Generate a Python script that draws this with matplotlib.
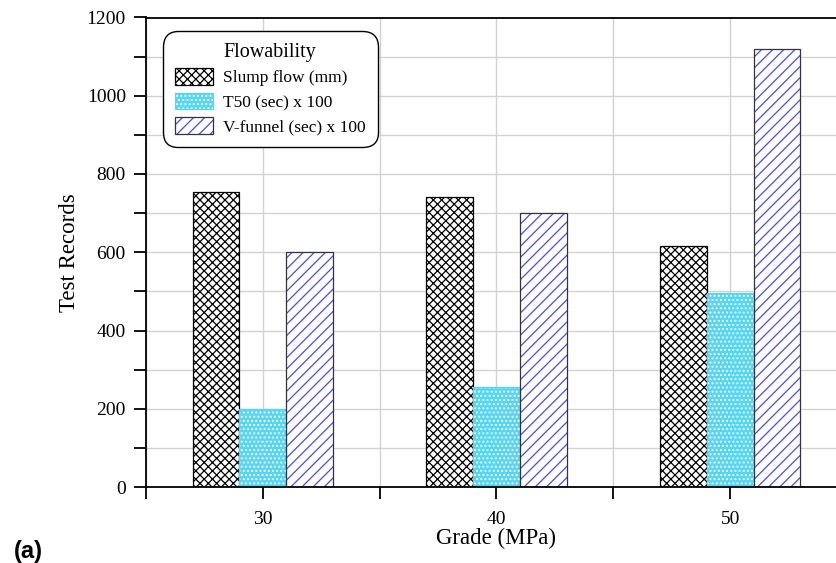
import matplotlib

matplotlib.use("Agg")
import matplotlib.pyplot as plt
import matplotlib.patches as mpatches
from matplotlib.legend_handler import HandlerTuple
from matplotlib.ticker import MultipleLocator
import numpy as np

grades = [30, 40, 50]
slump_flow = [755, 740, 615]
t50_x100 = [200, 255, 497]
v_funnel_x100 = [600, 700, 1120]

series_labels = ["Slump flow (mm)", "T50 (sec) x 100", "V-funnel (sec) x 100"]

plt.rcParams["font.family"] = ["Liberation Serif", "DejaVu Serif"]
plt.rcParams["hatch.linewidth"] = 0.9

CYAN = "#56d6f2"
BLUE = "#4a4af5"
BAR_W = 2.0

SLUMP_HATCH = "xxxx"
T50_HATCH = "...."
VF_HATCH = "///"

fig = plt.figure(figsize=(8.36, 5.63), dpi=100)
ax = fig.add_axes([146 / 836, 1 - 487 / 563, 701 / 836, 469.5 / 563])

x = np.array(grades, dtype=float)

# slump flow: black cross hatch on white
ax.bar(x - BAR_W, slump_flow, width=BAR_W, color="white", edgecolor="black",
       hatch=SLUMP_HATCH, linewidth=0.9, zorder=3)

# T50: cyan with white dots, border in cyan
ax.bar(x, t50_x100, width=BAR_W, color=CYAN, edgecolor="white",
       hatch=T50_HATCH, linewidth=0, zorder=3)
ax.bar(x, t50_x100, width=BAR_W, fill=False, edgecolor=CYAN,
       linewidth=0.9, zorder=4)

# V-funnel: blue diagonal hatch, black border
ax.bar(x + BAR_W, v_funnel_x100, width=BAR_W, color="white", edgecolor=BLUE,
       hatch=VF_HATCH, linewidth=0, zorder=3)
ax.bar(x + BAR_W, v_funnel_x100, width=BAR_W, fill=False, edgecolor="#333333",
       linewidth=0.9, zorder=4)

ax.set_xlim(25, 55)
ax.set_ylim(0, 1200)
ax.xaxis.set_major_locator(MultipleLocator(10))
ax.xaxis.set_minor_locator(MultipleLocator(5))
ax.yaxis.set_major_locator(MultipleLocator(200))
ax.yaxis.set_minor_locator(MultipleLocator(100))

ax.grid(True, which="both", color="#d2d2d2", linewidth=1.0, zorder=0)
ax.set_axisbelow(True)

for side in ["left", "bottom", "top", "right"]:
    ax.spines[side].set_linewidth(1.3)
    ax.spines[side].set_zorder(5)

ax.tick_params(axis="both", which="both", direction="out", length=8.5,
               width=1.3, labelsize=14)
ax.tick_params(axis="x", which="both", top=False, pad=9)
ax.tick_params(axis="y", which="both", right=False, pad=6)

ax.set_xlabel("Grade (MPa)", fontsize=16.5, labelpad=0)
ax.set_ylabel("Test Records", fontsize=16.5, labelpad=5)

# legend with separate hatch / border colours
h_slump = mpatches.Patch(facecolor="white", edgecolor="black", hatch=SLUMP_HATCH, linewidth=0.9)
h_t50 = (
    mpatches.Patch(facecolor=CYAN, edgecolor="white", hatch=T50_HATCH, linewidth=0),
    mpatches.Patch(fill=False, edgecolor=CYAN, linewidth=0.9),
)
h_vf = (
    mpatches.Patch(facecolor="white", edgecolor=BLUE, hatch=VF_HATCH, linewidth=0),
    mpatches.Patch(fill=False, edgecolor="#333333", linewidth=0.9),
)
leg = ax.legend(
    [h_slump, h_t50, h_vf],
    series_labels,
    handler_map={tuple: HandlerTuple(ndivide=1, pad=0)},
    title="Flowability",
    loc="upper left",
    bbox_to_anchor=(0.024, 0.971),
    borderaxespad=0,
    fontsize=12.5,
    title_fontsize=14.5,
    handlelength=2.2,
    handleheight=1.1,
    handletextpad=0.6,
    labelspacing=0.36,
    borderpad=0.68,
    fancybox=True,
    framealpha=1,
    edgecolor="black",
)
leg.get_frame().set_linewidth(1.0)
leg.get_frame().set_boxstyle("round", pad=0, rounding_size=0.9)
leg.set_zorder(10)

fig.text(14 / 836, 1 - 558 / 563, "(a)", fontsize=17, fontweight="bold",
         family=["Liberation Sans", "DejaVu Sans"], ha="left", va="baseline")

fig.savefig("out.png", dpi=100)
